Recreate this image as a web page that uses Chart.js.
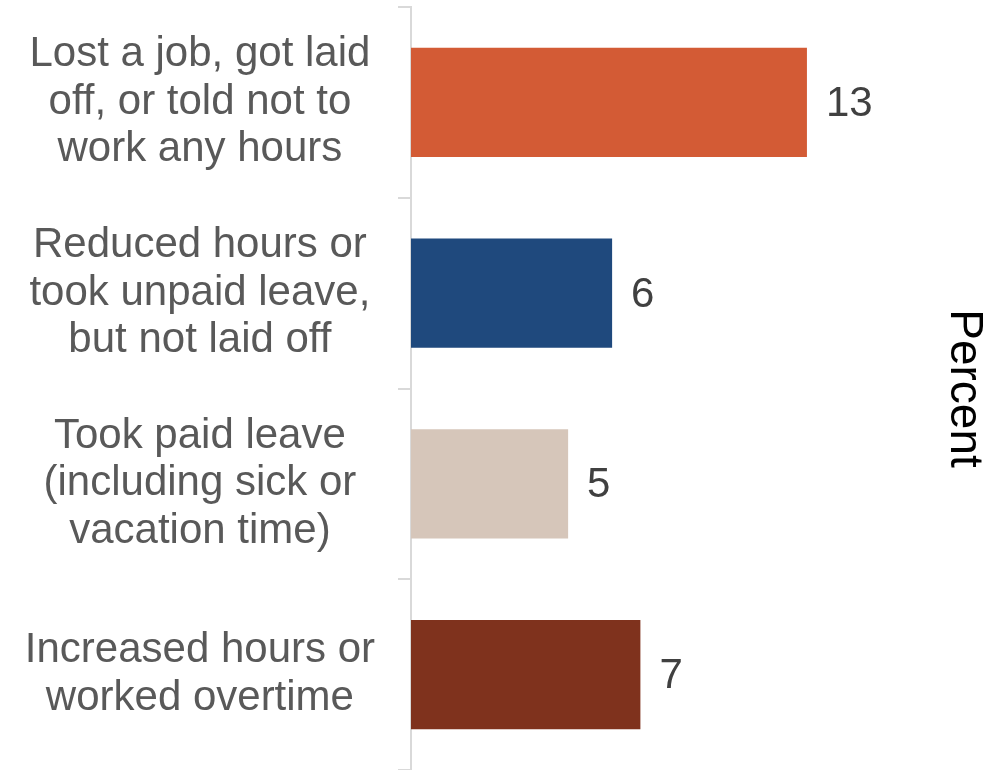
<!DOCTYPE html>
<html>
<head>
<meta charset="utf-8">
<script src="https://cdn.jsdelivr.net/npm/chart.js@4.4.1/dist/chart.umd.min.js"></script>
<style>
  html, body { margin: 0; padding: 0; background: #fff; }
  #wrap { width: 992px; height: 770px; }
</style>
</head>
<body>
<div id="wrap"><canvas id="chart"></canvas></div>
<script>
// categories (multi-line labels)
var categories = [
  ['Lost a job, got laid', 'off, or told not to', 'work any hours'],
  ['Reduced hours or', 'took unpaid leave,', 'but not laid off'],
  ['Took paid leave', '(including sick or', 'vacation time)'],
  ['Increased hours or', 'worked overtime']
];
// percent values (labels show rounded numbers)
var percentValues = [12.6, 6.4, 5.0, 7.3];
var barColors = ['#D35B35', '#1F497D', '#D6C6BA', '#7F321D'];
var axisTitle = 'Percent';

var FONT = "'Liberation Sans', Arial, sans-serif";

// draws the number at the end of each bar
var valueLabels = {
  id: 'valueLabels',
  afterDatasetsDraw: function(chart) {
    var ctx = chart.ctx;
    var meta = chart.getDatasetMeta(0);
    ctx.save();
    ctx.font = '42px ' + FONT;
    ctx.fillStyle = '#404040';
    ctx.textAlign = 'left';
    ctx.textBaseline = 'middle';
    meta.data.forEach(function(bar, i) {
      var v = chart.data.datasets[0].data[i];
      ctx.fillText(String(Math.round(v)), bar.x + 19, bar.y + 2);
    });
    ctx.restore();
  }
};

var chart = new Chart(document.getElementById('chart').getContext('2d'), {
  type: 'bar',
  data: {
    labels: categories,
    datasets: [{
      data: percentValues,
      backgroundColor: barColors,
      borderWidth: 0,
      barPercentage: 0.572,
      categoryPercentage: 1.0
    }]
  },
  options: {
    indexAxis: 'y',
    responsive: true,
    maintainAspectRatio: false,
    animation: false,
    layout: { padding: { left: 25, right: 0, top: 7, bottom: 0 } },
    plugins: {
      legend: { display: false },
      tooltip: { enabled: false }
    },
    scales: {
      x: {
        display: false,
        min: 0,
        max: 17
      },
      y: {
        position: 'left',
        // keep the label column wide and don't let the tall labels push the plot in
        afterFit: function(scale) {
          scale.width = 386;
          scale.paddingTop = 0;
          scale.paddingBottom = 0;
        },
        grid: {
          display: true,
          drawOnChartArea: false,
          drawTicks: true,
          tickLength: 13,
          color: '#d9d9d9',
          lineWidth: 2,
          offset: true
        },
        border: { display: true, color: '#d9d9d9', width: 2 },
        ticks: {
          color: '#595959',
          padding: 23,
          crossAlign: 'center',
          font: { family: FONT, size: 42, lineHeight: 1.13 }
        }
      },
      y2: {
        type: 'linear',
        position: 'right',
        grid: { display: false, drawTicks: false },
        border: { display: false },
        ticks: { display: false },
        title: {
          display: true,
          text: axisTitle,
          color: '#000000',
          font: { family: FONT, size: 46, lineHeight: 0.8 },
          padding: { top: 10, bottom: 0 }
        }
      }
    }
  },
  plugins: [valueLabels]
});
</script>
</body>
</html>
